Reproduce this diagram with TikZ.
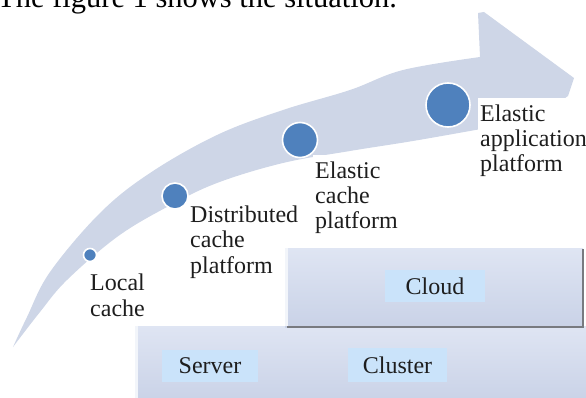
\documentclass[tikz,border=0pt]{standalone}
\usepackage{fontspec}
\setmainfont{Liberation Serif}
\definecolor{arrowfill}{RGB}{206,214,231}
\definecolor{dotblue}{RGB}{79,129,189}
\definecolor{tagblue}{RGB}{202,227,250}
\definecolor{boxtop}{RGB}{223,229,243}
\definecolor{boxbot}{RGB}{201,210,231}
\definecolor{shadowc}{RGB}{120,122,128}
\definecolor{txt}{RGB}{30,30,30}
\begin{document}
\begin{tikzpicture}[x=1pt,y=-1pt,
  lbl/.style={fill=white, inner xsep=2pt, inner ysep=6.5pt, align=left, anchor=base west,
              font=\fontsize{24}{25.5}\selectfont, text=txt},
  dot/.style={circle, fill=dotblue, draw=white, line width=1.6pt, inner sep=0pt},
  layer/.style={top color=boxtop, bottom color=boxbot, draw=none},
  tag/.style={fill=tagblue, inner sep=0pt, font=\fontsize{24}{25.5}\selectfont, text=txt}]
\useasboundingbox (0,0) rectangle (586,398);
\clip (0,0) rectangle (586,398);

% cut-off sentence at the top
\node[anchor=base west, inner sep=0pt, font=\fontsize{30.5}{36}\selectfont, text=black] (intro) at (-3,7.5) {The figure 1 shows the situation.};

% curved arrow
\fill[arrowfill] plot[smooth, tension=0.6] coordinates {(13,347) (27,317) (50,272) (100,213) (150,173) (217,135) (283,110) (350,90) (403,70) (480,57)}
  -- (478,13) -- (484,12) -- (574,78) -- (568,96) -- (492,150) -- (481,129)
  -- plot[smooth, tension=0.6] coordinates {(481,129) (413,141) (350,151) (283,163) (217,183) (167,207) (117,237) (67,280) (40,312) (13,347)} -- cycle;

% labels (anchored at the baseline of their last line)
\node[lbl] (l1) at (88,316) {Local\\cache};
\node[lbl] (l2) at (188,273) {Distributed\\cache\\platform};
\node[lbl] (l3) at (313,229) {Elastic\\cache\\platform};
\node[lbl] (l4) at (478,172) {Elastic\\application\\platform};

% dots
\node[dot, minimum size=13pt] (c1) at (90,255) {};
\node[dot, minimum size=26pt] (c2) at (175,196) {};
\node[dot, minimum size=35pt] (c3) at (300,140) {};
\node[dot, minimum size=44pt] (c4) at (448,105) {};

% layers
\path[layer] (135,326) rectangle (590,402);
\draw[white!60!boxtop, line width=3pt] (136.5,326) -- (136.5,398);
\path[layer] (285,248) rectangle (583,327);
\draw[white!60!boxtop, line width=3pt] (286.5,248) -- (286.5,326);
\draw[shadowc, line width=2.5pt] (287,327) -- (583,327) -- (583,249);

\node[tag, minimum width=100pt, minimum height=32pt] (cloud) at (435,286) {Cloud};
\node[tag, minimum width=99pt, minimum height=34pt] (cluster) at (397.5,365) {Cluster};
\node[tag, minimum width=96pt, minimum height=32pt] (server) at (210,366) {Server};
\end{tikzpicture}
\end{document}
